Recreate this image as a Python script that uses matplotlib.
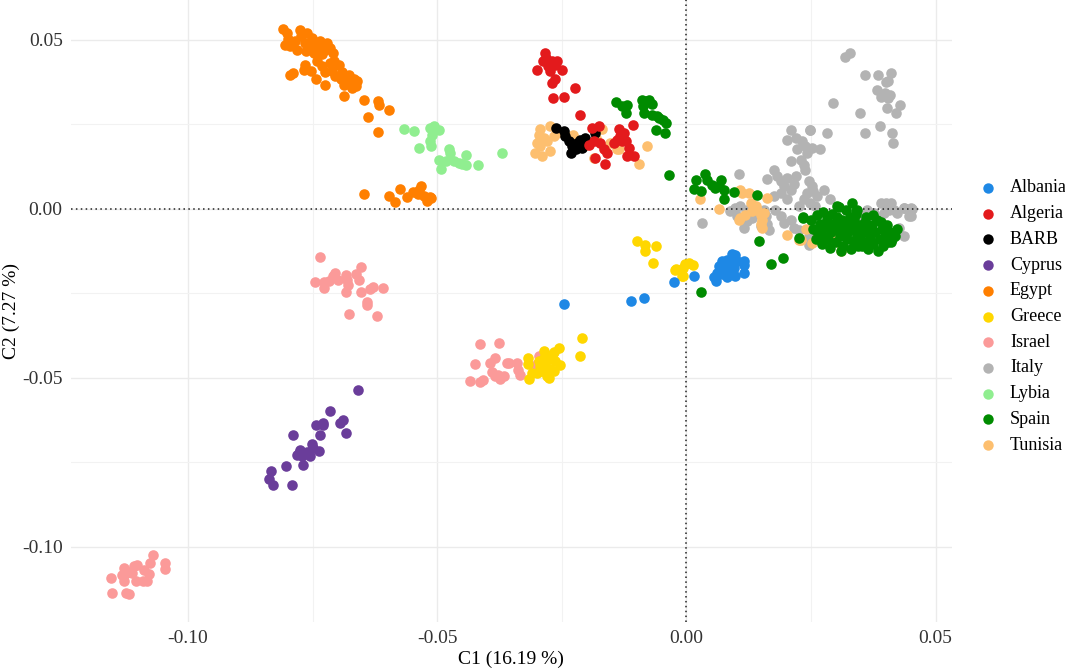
import matplotlib.pyplot as plt
from matplotlib.lines import Line2D

# ---------------- DATA ----------------
albania_x = [-0.0246, -0.0112, -0.0086, -0.0025, 0.0015, 0.0092, 0.0098, 0.0072, 0.0082, 0.0092,
             0.0102, 0.0115, 0.0116, 0.0065, 0.0075, 0.0085, 0.0095, 0.0062, 0.0072, 0.0082,
             0.0098, 0.0115, 0.0055, 0.0060, 0.0088]
albania_y = [-0.0283, -0.0272, -0.0264, -0.0218, -0.0198, -0.0133, -0.0136, -0.0156, -0.0151, -0.0160,
             -0.0156, -0.0156, -0.0166, -0.0171, -0.0176, -0.0171, -0.0177, -0.0190, -0.0195, -0.0203,
             -0.0198, -0.0192, -0.0203, -0.0215, -0.0185]

algeria_x = [-0.0283, -0.0299, -0.0287, -0.0277, -0.0270, -0.0263, -0.0260, -0.0250, -0.0273, -0.0263,
             -0.0270, -0.0281, -0.0268, -0.0246, -0.0224, -0.0213, -0.0189, -0.0176, -0.0186, -0.0173,
             -0.0166, -0.0159, -0.0163, -0.0183, -0.0146, -0.0136, -0.0133, -0.0126, -0.0122, -0.0116,
             -0.0119, -0.0106, -0.0107, -0.0139, -0.0129, -0.0196]
algeria_y = [0.0459, 0.0411, 0.0436, 0.0421, 0.0436, 0.0426, 0.0436, 0.0411, 0.0406, 0.0382,
             0.0372, 0.0446, 0.0327, 0.0330, 0.0357, 0.0278, 0.0239, 0.0244, 0.0199, 0.0194,
             0.0175, 0.0165, 0.0133, 0.0150, 0.0194, 0.0234, 0.0214, 0.0224, 0.0199, 0.0180,
             0.0155, 0.0155, 0.0246, 0.0204, 0.0199, 0.0189]

barb_x = [-0.0261, -0.0246, -0.0243, -0.0236, -0.0230, -0.0232, -0.0219, -0.0213, -0.0210, -0.0203,
          -0.0202, -0.0221, -0.0183]
barb_y = [0.0239, 0.0229, 0.0214, 0.0199, 0.0184, 0.0165, 0.0194, 0.0204, 0.0180, 0.0209,
          0.0194, 0.0175, 0.0224]

cyprus_x = [-0.0660, -0.0715, -0.0743, -0.0730, -0.0729, -0.0695, -0.0690, -0.0683, -0.0736, -0.0790,
            -0.0752, -0.0749, -0.0775, -0.0782, -0.0772, -0.0762, -0.0755, -0.0737, -0.0769, -0.0803,
            -0.0833, -0.0837, -0.0829, -0.0792, -0.0778]
cyprus_y = [-0.0536, -0.0598, -0.0640, -0.0633, -0.0640, -0.0634, -0.0624, -0.0664, -0.0671, -0.0670,
            -0.0696, -0.0708, -0.0715, -0.0730, -0.0732, -0.0720, -0.0731, -0.0718, -0.0759, -0.0761,
            -0.0775, -0.0799, -0.0817, -0.0817, -0.0724]

egypt_x = [-0.0809, -0.0802, -0.0805, -0.0799, -0.0796, -0.0785, -0.0782, -0.0775, -0.0773, -0.0766,
           -0.0763, -0.0762, -0.0755, -0.0752, -0.0748, -0.0743, -0.0739, -0.0735, -0.0731, -0.0728,
           -0.0725, -0.0715, -0.0709, -0.0722, -0.0742, -0.0766, -0.0768, -0.0753, -0.0743, -0.0731,
           -0.0725, -0.0725, -0.0715, -0.0712, -0.0705, -0.0698, -0.0694, -0.0691, -0.0688, -0.0688,
           -0.0681, -0.0678, -0.0671, -0.0668, -0.0661, -0.0664, -0.0678, -0.0708, -0.0795, -0.0790,
           -0.0648, -0.0619, -0.0616, -0.0596, -0.0639, -0.0619,
           -0.0648, -0.0596, -0.0584, -0.0574, -0.0560, -0.0548, -0.0539, -0.0532, -0.0536, -0.0527,
           -0.0521, -0.0514, -0.0512]
egypt_y = [0.0530, 0.0520, 0.0485, 0.0503, 0.0481, 0.0495, 0.0470, 0.0528, 0.0510, 0.0490,
           0.0465, 0.0518, 0.0481, 0.0506, 0.0461, 0.0490, 0.0475, 0.0495, 0.0456, 0.0485,
           0.0470, 0.0475, 0.0461, 0.0490, 0.0437, 0.0426, 0.0411, 0.0406, 0.0382, 0.0422,
           0.0403, 0.0365, 0.0431, 0.0406, 0.0393, 0.0426, 0.0382, 0.0403, 0.0365, 0.0332,
           0.0393, 0.0372, 0.0357, 0.0382, 0.0377, 0.0362, 0.0396, 0.0437, 0.0396, 0.0401,
           0.0320, 0.0318, 0.0305, 0.0293, 0.0271, 0.0227,
           0.0044, 0.0036, 0.0020, 0.0058, 0.0033, 0.0049, 0.0042, 0.0068, 0.0056, 0.0037,
           0.0023, 0.0033, 0.0030]

greece_x = [-0.0099, -0.0084, -0.0084, -0.0062, -0.0067, -0.0002, 0.0005, 0.0013, -0.0007, -0.0022,
            -0.0009, -0.0021, -0.0007,
            -0.0209, -0.0213, -0.0256, -0.0265, -0.0270, -0.0285, -0.0253, -0.0263, -0.0276, -0.0286,
            -0.0273, -0.0265, -0.0280, -0.0275, -0.0293, -0.0290, -0.0300, -0.0310, -0.0315, -0.0317,
            -0.0317, -0.0296, -0.0283]
greece_y = [-0.0097, -0.0109, -0.0126, -0.0111, -0.0161, -0.0164, -0.0161, -0.0168, -0.0176, -0.0182,
            -0.0200, -0.0180, -0.0200,
            -0.0383, -0.0437, -0.0412, -0.0425, -0.0434, -0.0422, -0.0464, -0.0451, -0.0446, -0.0441,
            -0.0474, -0.0481, -0.0496, -0.0501, -0.0467, -0.0481, -0.0486, -0.0486, -0.0504, -0.0442,
            -0.0461, -0.0451, -0.0456]

israel_x = [-0.1155, -0.1153, -0.1129, -0.1127, -0.1128, -0.1125, -0.1118, -0.1113, -0.1108, -0.1103,
            -0.1104, -0.1088, -0.1090, -0.1082, -0.1078, -0.1076, -0.1070, -0.1046, -0.1046, -0.1117,
            -0.1133,
            -0.0736, -0.0746, -0.0728, -0.0727, -0.0718, -0.0709, -0.0705, -0.0700, -0.0684, -0.0681,
            -0.0679, -0.0684, -0.0677, -0.0663, -0.0658, -0.0653, -0.0653, -0.0641, -0.0640, -0.0635,
            -0.0629, -0.0609, -0.0620,
            -0.0415, -0.0377, -0.0384, -0.0394, -0.0425, -0.0435, -0.0415, -0.0409, -0.0390, -0.0384,
            -0.0379, -0.0375, -0.0366, -0.0361, -0.0357, -0.0340, -0.0337, -0.0333, -0.0296, -0.0300,
            -0.0303]
israel_y = [-0.1094, -0.1138, -0.1063, -0.1081, -0.1103, -0.1136, -0.1140, -0.1078, -0.1056, -0.1053,
            -0.1103, -0.1070, -0.1103, -0.1103, -0.1081, -0.1049, -0.1026, -0.1048, -0.1066, -0.1076,
            -0.1083,
            -0.0142, -0.0217, -0.0218, -0.0235, -0.0215, -0.0200, -0.0190, -0.0210, -0.0197, -0.0212,
            -0.0227, -0.0248, -0.0313, -0.0194, -0.0212, -0.0174, -0.0247, -0.0276, -0.0286, -0.0237,
            -0.0232, -0.0235, -0.0319,
            -0.0402, -0.0399, -0.0442, -0.0457, -0.0461, -0.0511, -0.0514, -0.0506, -0.0484, -0.0496,
            -0.0491, -0.0504, -0.0496, -0.0457, -0.0457, -0.0457, -0.0477, -0.0491, -0.0437, -0.0461,
            -0.0477]

italy_x = [0.0319, 0.0328, 0.0359, 0.0384, 0.0411, 0.0400, 0.0404, 0.0383, 0.0390, 0.0398,
           0.0408, 0.0404, 0.0428, 0.0403, 0.0420, 0.0294, 0.0349, 0.0388, 0.0359, 0.0413,
           0.0415,
           0.0209, 0.0249, 0.0283, 0.0202, 0.0219, 0.0232, 0.0239, 0.0222, 0.0252, 0.0269,
           0.0242, 0.0209, 0.0229, 0.0236, 0.0239, 0.0175, 0.0162, 0.0182, 0.0189, 0.0202,
           0.0195, 0.0209, 0.0219, 0.0216, 0.0189, 0.0175, 0.0202, 0.0246, 0.0252, 0.0242,
           0.0255, 0.0262, 0.0276, 0.0289, 0.0236, 0.0226, 0.0249, 0.0259, 0.0105, 0.0032,
           0.0248,
           0.0088, 0.0098, 0.0108, 0.0122, 0.0122, 0.0132, 0.0142, 0.0155, 0.0159, 0.0162,
           0.0165, 0.0149, 0.0115, 0.0102, 0.0178, 0.0189, 0.0195, 0.0209, 0.0216, 0.0226,
           0.0246, 0.0246, 0.0276, 0.0286,
           0.0353, 0.0363, 0.0376, 0.0390, 0.0400, 0.0410, 0.0406, 0.0396, 0.0416, 0.0423,
           0.0436, 0.0450, 0.0450, 0.0426, 0.0436, 0.0349, 0.0359, 0.0343, 0.0453, 0.0447,
           0.0437]
italy_y = [0.0449, 0.0459, 0.0396, 0.0396, 0.0401, 0.0374, 0.0376, 0.0350, 0.0330, 0.0342,
           0.0337, 0.0327, 0.0305, 0.0298, 0.0283, 0.0311, 0.0283, 0.0244, 0.0224, 0.0224,
           0.0194,
           0.0231, 0.0231, 0.0224, 0.0204, 0.0209, 0.0199, 0.0184, 0.0175, 0.0180, 0.0175,
           0.0165, 0.0140, 0.0145, 0.0130, 0.0115, 0.0115, 0.0088, 0.0096, 0.0081, 0.0091,
           0.0066, 0.0056, 0.0096, 0.0073, 0.0046, 0.0036, 0.0027, 0.0081, 0.0066, 0.0046,
           0.0051, 0.0036, 0.0056, 0.0027, 0.0027, 0.0007, 0.0017, 0.0007, 0.0101, -0.0042,
           0.0232,
           -0.0008, 0.0002, 0.0007, -0.0003, -0.0037, -0.0027, -0.0013, -0.0003, -0.0023, -0.0047,
           -0.0062, -0.0052, -0.0057, -0.0023, -0.0003, -0.0023, -0.0043, -0.0033, -0.0057, -0.0062,
           -0.0082, -0.0107, -0.0101, -0.0082,
           -0.0023, -0.0003, -0.0013, 0.0017, 0.0017, 0.0017, -0.0003, -0.0013, -0.0003, -0.0013,
           0.0001, 0.0001, -0.0021, -0.0057, -0.0082, -0.0052, -0.0082, -0.0107, -0.0001, -0.0023,
           0.0003]

lybia_x = [-0.0566, -0.0546, -0.0515, -0.0507, -0.0497, -0.0511, -0.0514, -0.0513, -0.0537, -0.0476,
           -0.0474, -0.0496, -0.0483, -0.0492, -0.0466, -0.0457, -0.0450, -0.0442, -0.0442, -0.0418,
           -0.0371]
lybia_y = [0.0234, 0.0230, 0.0239, 0.0244, 0.0231, 0.0219, 0.0199, 0.0184, 0.0179, 0.0175,
           0.0163, 0.0143, 0.0142, 0.0117, 0.0140, 0.0135, 0.0132, 0.0130, 0.0157, 0.0128,
           0.0164]

spain_x = [-0.0141, -0.0129, -0.0120, -0.0122, -0.0089, -0.0082, -0.0076, -0.0087, -0.0086, -0.0069,
           -0.0069, -0.0059, -0.0055, -0.0046, -0.0040, -0.0062, -0.0042, -0.0034,
           0.0020, 0.0016, 0.0038, 0.0042, 0.0052, 0.0058, 0.0070, 0.0065, 0.0075, 0.0075,
           0.0030, 0.0095, 0.0141, 0.0145, 0.0169, 0.0194, 0.0234, 0.0226, 0.0333, 0.0306,
           0.0343, 0.0030, 0.0303, 0.0341, 0.0234,
           0.0250, 0.0255, 0.0262, 0.0268, 0.0270, 0.0275, 0.0280, 0.0283, 0.0285, 0.0290,
           0.0292, 0.0296, 0.0300, 0.0302, 0.0305, 0.0308, 0.0312, 0.0315, 0.0318, 0.0320,
           0.0322, 0.0325, 0.0328, 0.0330, 0.0332, 0.0335, 0.0338, 0.0340, 0.0342, 0.0260,
           0.0272, 0.0288, 0.0310, 0.0345,
           0.0348, 0.0350, 0.0355, 0.0358, 0.0362, 0.0365, 0.0368, 0.0372, 0.0375, 0.0378,
           0.0382, 0.0385, 0.0388, 0.0392, 0.0395, 0.0398, 0.0402, 0.0405, 0.0408, 0.0412,
           0.0418, 0.0360, 0.0375,
           0.0262, 0.0278, 0.0298, 0.0318, 0.0336, 0.0352, 0.0370, 0.0390, 0.0410, 0.0422]
spain_y = [0.0315, 0.0303, 0.0305, 0.0283, 0.0322, 0.0317, 0.0320, 0.0303, 0.0283, 0.0308,
           0.0278, 0.0273, 0.0268, 0.0263, 0.0254, 0.0232, 0.0224, 0.0098,
           0.0086, 0.0058, 0.0101, 0.0086, 0.0071, 0.0061, 0.0086, 0.0066, 0.0056, 0.0029,
           0.0051, 0.0048, 0.0041, -0.0097, -0.0164, -0.0146, -0.0028, -0.0087, 0.0017, 0.0005,
           -0.0003, -0.0248, 0.0007, -0.0006, -0.0025,
           -0.0035, -0.0060, -0.0020, -0.0045, -0.0075, -0.0010, -0.0055, -0.0030, -0.0090, -0.0070,
           -0.0015, -0.0045, -0.0100, -0.0025, -0.0060, -0.0080, -0.0035, -0.0110, -0.0050, -0.0005,
           -0.0090, -0.0070, -0.0025, -0.0120, -0.0045, -0.0095, -0.0060, -0.0015, -0.0080, -0.0090,
           -0.0105, -0.0118, -0.0125, -0.0110,
           -0.0050, -0.0075, -0.0100, -0.0040, -0.0065, -0.0120, -0.0085, -0.0050, -0.0105, -0.0070,
           -0.0035, -0.0125, -0.0090, -0.0060, -0.0110, -0.0080, -0.0050, -0.0100, -0.0070, -0.0090,
           -0.0080, -0.0025, -0.0020,
           -0.0065, -0.0085, -0.0055, -0.0065, -0.0030, -0.0110, -0.0095, -0.0040, -0.0100, -0.0060]

tunisia_x = [-0.0293, -0.0273, -0.0296, -0.0286, -0.0300, -0.0280, -0.0266, -0.0260, -0.0303, -0.0290,
             -0.0274, -0.0293, -0.0228, -0.0224, -0.0206, -0.0186, -0.0169, -0.0181, -0.0153, -0.0139,
             -0.0136, -0.0096, -0.0079,
             0.0028, 0.0065, 0.0108, 0.0112, 0.0125, 0.0129, 0.0139, 0.0162, 0.0108, 0.0118,
             0.0132, 0.0142, 0.0149, 0.0155, 0.0152, 0.0149, 0.0152, 0.0105, 0.0202, 0.0229,
             0.0241, 0.0252, 0.0262, 0.0296, 0.0311, 0.0313, 0.0226]
tunisia_y = [0.0234, 0.0244, 0.0219, 0.0209, 0.0194, 0.0199, 0.0214, 0.0224, 0.0165, 0.0155,
             0.0170, 0.0184, 0.0219, 0.0180, 0.0184, 0.0150, 0.0234, 0.0209, 0.0194, 0.0175,
             0.0175, 0.0133, 0.0186,
             0.0029, 0.0000, 0.0056, 0.0046, 0.0046, 0.0017, 0.0007, 0.0032, -0.0028, -0.0018,
             -0.0008, -0.0003, -0.0018, -0.0013, -0.0033, -0.0047, -0.0057, -0.0033, -0.0077, -0.0094,
             -0.0060, -0.0101, -0.0087, -0.0092, -0.0126, -0.0116, -0.0092]

# legend order and colours
countries = ["Albania", "Algeria", "BARB", "Cyprus", "Egypt", "Greece",
             "Israel", "Italy", "Lybia", "Spain", "Tunisia"]
colors = ["#1E88E5", "#E31A1C", "#000000", "#6A3D9A", "#FF7F00", "#FFD700",
          "#FB9A99", "#B3B3B3", "#90EE90", "#008B00", "#FDBF6F"]

points = {
    "Albania": (albania_x, albania_y), "Algeria": (algeria_x, algeria_y),
    "BARB": (barb_x, barb_y), "Cyprus": (cyprus_x, cyprus_y),
    "Egypt": (egypt_x, egypt_y), "Greece": (greece_x, greece_y),
    "Israel": (israel_x, israel_y), "Italy": (italy_x, italy_y),
    "Lybia": (lybia_x, lybia_y), "Spain": (spain_x, spain_y),
    "Tunisia": (tunisia_x, tunisia_y),
}
# drawing order (later = on top)
draw_order = ["Italy", "Tunisia", "BARB", "Algeria", "Spain", "Israel",
              "Greece", "Albania", "Cyprus", "Egypt", "Lybia"]

# ---------------- PLOT ----------------
plt.rcParams["font.family"] = ["Liberation Serif", "DejaVu Serif"]

W, H = 1065, 671
fig = plt.figure(figsize=(W / 100, H / 100), dpi=100)
L, R, B, T = 71, 952, 622, 0
ax = fig.add_axes([L / W, 1 - B / H, (R - L) / W, (B - T) / H])

col = dict(zip(countries, colors))
for i, name in enumerate(draw_order):
    xs, ys = points[name]
    ax.scatter(xs, ys, s=58, color=col[name], linewidths=0, zorder=3 + i)

ax.axhline(0, color="#222222", linestyle=(0, (1, 2.2)), linewidth=1.1, zorder=3.5)
ax.axvline(0, color="#222222", linestyle=(0, (1, 2.2)), linewidth=1.1, zorder=3.5)

ax.set_xlim(-0.1235, 0.0533)
ax.set_ylim(-0.1223, 0.0617)
ax.set_xticks([-0.10, -0.05, 0.00, 0.05])
ax.set_xticklabels(["-0.10", "-0.05", "0.00", "0.05"])
ax.set_yticks([-0.10, -0.05, 0.00, 0.05])
ax.set_yticklabels(["-0.10", "-0.05", "0.00", "0.05"])
ax.set_xticks([-0.075, -0.025, 0.025], minor=True)
ax.set_yticks([-0.075, -0.025, 0.025], minor=True)
ax.grid(True, which="major", color="#EBEBEB", linewidth=1.0, zorder=0)
ax.grid(True, which="minor", color="#F2F2F2", linewidth=0.8, zorder=0)
ax.set_axisbelow(True)
ax.tick_params(which="both", length=0, labelsize=14, colors="#333333", pad=6)
for s in ax.spines.values():
    s.set_visible(False)

fig.text(511 / W, 1 - 659 / H, "C1 (16.19 %)", ha="center", va="center", fontsize=14)
fig.text(11 / W, 1 - 311 / H, "C2 (7.27 %)", ha="center", va="center", fontsize=14, rotation=90)

# legend drawn by hand
for i, (name, c) in enumerate(zip(countries, colors)):
    yy = 1 - (188 + 25.7 * i) / H
    fig.add_artist(Line2D([988 / W], [yy], marker="o", markersize=7.5, color=c,
                          markeredgewidth=0, linestyle="none"))
    fig.text(1010 / W, yy, name, ha="left", va="center", fontsize=13)

fig.savefig("out.png", dpi=100)
